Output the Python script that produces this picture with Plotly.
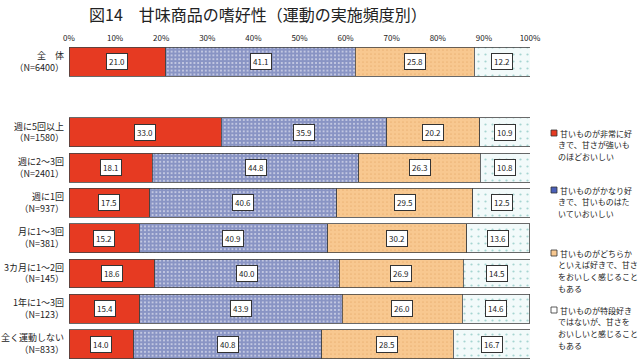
import plotly.graph_objects as go

categories = ["全　体<br>（N=6400）", "週に5回以上<br>（N=1580）", "週に2～3回<br>（N=2401）",
              "週に1回<br>（N=937）", "月に1～3回<br>（N=381）", "3カ月に1～2回<br>（N=145）",
              "1年に1～3回<br>（N=123）", "全く運動しない<br>（N=833）"]
series_names = ["甘いものが非常に好<br>きで、甘さが強いも<br>のほどおいしい",
                "甘いものがかなり好<br>きで、甘いものはた<br>いていおいしい",
                "甘いものがどちらか<br>といえば好きで、甘さ<br>をおいしく感じること<br>もある",
                "甘いものが特段好き<br>ではないが、甘さを<br>おいしいと感じること<br>もある"]
very_like = [21.0, 33.0, 18.1, 17.5, 15.2, 18.6, 15.4, 14.0]
fairly_like = [41.1, 35.9, 44.8, 40.6, 40.9, 40.0, 43.9, 40.8]
somewhat_like = [25.8, 20.2, 26.3, 29.5, 30.2, 26.9, 26.0, 28.5]
not_particularly = [12.2, 10.9, 10.8, 12.5, 13.6, 14.5, 14.6, 16.7]
x_ticks = [0, 10, 20, 30, 40, 50, 60, 70, 80, 90, 100]

series = [very_like, fairly_like, somewhat_like, not_particularly]
styles = [
    dict(color="#E63A22", pattern=dict(shape="")),
    dict(color="white", pattern=dict(shape="+", fgcolor="#142A8A", bgcolor="white", size=3.8, solidity=0.9, fillmode="overlay")),
    dict(color="#F8C890", pattern=dict(shape=".", fgcolor="#E0A060", bgcolor="#F8C890", size=4, solidity=0.15, fillmode="overlay")),
    dict(color="#F2FAFA", pattern=dict(shape=".", fgcolor="#5AAFA8", bgcolor="#F2FAFA", size=7, solidity=0.08, fillmode="overlay")),
]
legend_sq = ["#E63A22", "#4A5FB8", "#F8C890", "white"]

# y positions: overall first, then a gap
ypos = [0] + [i + 1 for i in range(1, len(categories))]

FONT = "Noto Sans CJK JP"
W, H = 640, 360
L, R, T, B = 69, 110, 44, 0

fig = go.Figure()
for vals, name, st in zip(series, series_names, styles):
    fig.add_trace(go.Bar(
        x=vals, y=ypos, orientation="h", name=name, width=0.82,
        marker=dict(color=st["color"], pattern=st["pattern"], line=dict(color="#444", width=0.8)),
        showlegend=False, hoverinfo="skip"))

ann = []
for row in range(len(categories)):
    cum = 0
    for vals in series:
        v = vals[row]
        ann.append(dict(x=cum + v / 2, y=ypos[row], xref="x", yref="y", text=f"{v:.1f}",
                        showarrow=False, bgcolor="white", bordercolor="#333", borderwidth=1,
                        borderpad=2, font=dict(size=8, color="#222", family=FONT)))
        cum += v

pw = W - L - R
ph = H - T - B
def px_x(p):
    return (p - L) / pw
def px_y(p):
    return (H - B - p) / ph

ann.append(dict(x=px_x(258), y=px_y(14), xref="paper", yref="paper",
                text="図14　甘味商品の嗜好性（運動の実施頻度別）", showarrow=False,
                xanchor="center", yanchor="middle", font=dict(size=16, color="#222", family=FONT)))

shapes = []
leg_center = [133, 190, 253, 310]
for name, sq, cy in zip(series_names, legend_sq, leg_center):
    for i, line in enumerate(name.split("<br>")):
        ann.append(dict(x=px_x(558 if i == 0 else 556), y=px_y(cy + i * 11.8), xref="paper", yref="paper",
                        text=line, showarrow=False, xanchor="left", yanchor="middle", align="left",
                        font=dict(size=8, color="#222", family=FONT)))
    shapes.append(dict(type="rect", xref="paper", yref="paper",
                       x0=px_x(551), x1=px_x(557), y0=px_y(cy + 3), y1=px_y(cy - 3),
                       fillcolor=sq, line=dict(color="#333", width=0.8)))

fig.update_layout(
    width=W, height=H, margin=dict(l=L, r=R, t=T, b=B),
    barmode="stack", plot_bgcolor="white", paper_bgcolor="white",
    annotations=ann, shapes=shapes,
    font=dict(family=FONT, color="#222"),
    xaxis=dict(side="top", range=[0, 100], tickvals=x_ticks, ticktext=[f"{t}%" for t in x_ticks],
               showgrid=False, zeroline=False, showline=False, ticks="",
               tickfont=dict(size=8, color="#222", family=FONT)),
    yaxis=dict(range=[8.45, -0.5], tickvals=ypos, ticktext=categories, showgrid=False,
               zeroline=False, showline=False, ticks="", ticklabelstandoff=4,
               tickfont=dict(size=9, color="#222", family=FONT)),
)
fig.write_html("out.html")
